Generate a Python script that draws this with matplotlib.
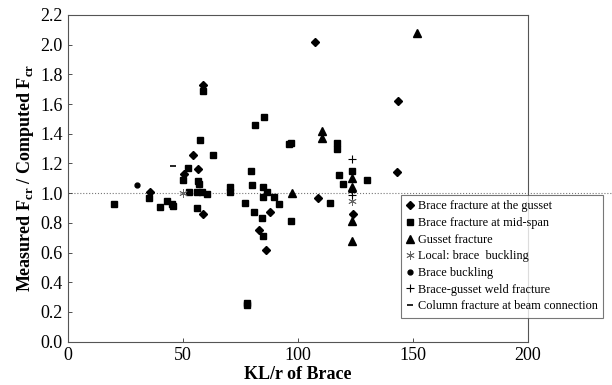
import matplotlib
matplotlib.use("Agg")
import matplotlib.pyplot as plt

plt.rcParams['font.family'] = ['Liberation Serif', 'DejaVu Serif']

# Brace fracture at the gusset
gusset_x = [59, 107.5, 143.5, 143, 54.5, 56.5, 50.6, 58.7, 86.2, 83.2, 88, 108.8, 123.9, 36]
gusset_y = [1.73, 2.02, 1.62, 1.14, 1.26, 1.16, 1.13, 0.86, 0.62, 0.75, 0.875, 0.97, 0.86, 1.01]

# Brace fracture at mid-span
mid_x = [58.9, 85.3, 81.3, 57.5, 63.3, 52.5, 56.5, 57.0, 52.9, 56.1, 58.3, 60.5, 50.3,
         70.6, 70.6, 79.7, 80.3, 85, 86.5, 85, 89.7, 92, 77.1, 81, 84.6, 84.8, 97.1,
         20.2, 35.4, 40.2, 43.1, 45.2, 45.7, 56.1, 77.8, 77.8, 96.2, 97, 117.2, 117.2,
         118, 119.8, 123.6, 129.9, 114]
mid_y = [1.69, 1.515, 1.46, 1.36, 1.26, 1.17, 1.08, 1.06, 1.01, 1.01, 1.005, 0.995, 1.09,
         1.045, 1.005, 1.15, 1.055, 1.04, 1.01, 0.975, 0.975, 0.927, 0.936, 0.875, 0.835, 0.71, 0.81,
         0.927, 0.966, 0.91, 0.947, 0.93, 0.914, 0.9, 0.26, 0.245, 1.33, 1.34, 1.34, 1.30,
         1.12, 1.06, 1.15, 1.09, 0.936]

# Gusset fracture
gf_x = [151.9, 110.4, 110.4, 97.4, 123.6, 123.6, 123.5, 123.4]
gf_y = [2.08, 1.42, 1.375, 1.0, 1.10, 1.045, 0.815, 0.678]

# Local brace buckling
local_x = [50, 123.7]
local_y = [1.0, 0.95]

# Brace buckling
buck_x = [30]
buck_y = [1.055]

# Brace-gusset weld fracture
weld_x = [123.6, 123.6, 123.6]
weld_y = [1.23, 1.01, 0.99]

# Column fracture at beam connection
col_x = [45.7]
col_y = [1.185]

labels = ["Brace fracture at the gusset", "Brace fracture at mid-span", "Gusset fracture",
          "Local: brace  buckling", "Brace buckling", "Brace-gusset weld fracture",
          "Column fracture at beam connection"]

fig = plt.figure(figsize=(6.12, 3.85), dpi=100)
ax = fig.add_axes([67.5/612, 1-341.7/385, (528-67.5)/612, (341.7-15)/385])

ax.plot(gusset_x, gusset_y, 'D', color='black', ms=4, ls='none', label=labels[0])
ax.plot(mid_x, mid_y, 's', color='black', ms=5, ls='none', label=labels[1])
ax.plot(gf_x, gf_y, '^', color='black', ms=5.5, ls='none', label=labels[2])
ax.plot(local_x, local_y, marker=(6, 2, 0), color='#666666', ms=6, ls='none', mew=0.6, label=labels[3])
ax.plot(buck_x, buck_y, 'o', color='black', ms=3.5, ls='none', label=labels[4])
ax.plot(weld_x, weld_y, '+', color='black', ms=6, mew=0.8, ls='none', label=labels[5])
ax.plot(col_x, col_y, '_', color='black', ms=5, mew=1.2, ls='none', label=labels[6])

ax.axhline(1.0, xmin=0, xmax=(612-67.5)/(528-67.5), color='#777777', lw=0.8, ls=':', clip_on=False, zorder=0)

ax.set_xlim(0, 200)
ax.set_ylim(0, 2.2)
ax.set_xticks([0, 50, 100, 150, 200])
ax.set_yticks([i*0.2 for i in range(12)])
ax.set_yticklabels([f"{i*0.2:.1f}" for i in range(12)])
ax.tick_params(direction='in', length=3, width=0.6, labelsize=13, colors='#333333', labelcolor='black')
for s in ax.spines.values():
    s.set_color('#555555')
    s.set_linewidth(0.8)

ax.set_xlabel("KL/r of Brace", fontsize=13, fontweight='bold', labelpad=2)
ax.set_ylabel(r"Measured F$_\mathregular{cr}$ / Computed F$_\mathregular{cr}$", fontsize=13, fontweight='bold', labelpad=3)

leg = fig.legend(loc='upper left', bbox_to_anchor=(401/612, 1-195/385), fontsize=8.8,
                 frameon=True, fancybox=False, handlelength=0.6, handletextpad=0.3,
                 labelspacing=0.38, borderpad=0.45, borderaxespad=0)
leg.get_frame().set_edgecolor('#555555')
leg.get_frame().set_linewidth(0.8)

fig.savefig("out.png", dpi=100)
